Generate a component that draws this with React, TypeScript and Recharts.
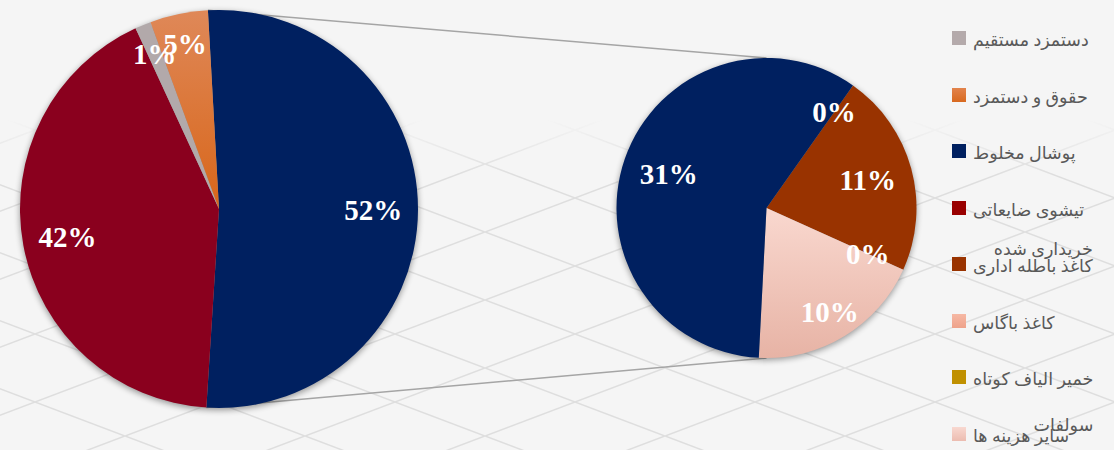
import React from 'react';
import { PieChart, Pie, Cell, Legend } from 'recharts';

const W = 1114;
const H = 450;

// secondary pie (breakdown of the navy slice), clockwise order
const secondaryNames = ['کاغذ باگاس', 'کاغذ باطله اداری خریداری شده', 'خمیر الیاف کوتاه سولفات', 'سایر هزینه ها', 'پوشال مخلوط'];
const secondaryValues = [0, 11.4, 0, 9.9, 30.6];

// primary pie, clockwise order; first slice is the group shown in the second pie
const primaryNames = ['سایر', 'تیشوی ضایعاتی', 'دستمزد مستقیم', 'حقوق و دستمزد'];
const primaryValues = [secondaryValues.reduce((a, b) => a + b, 0), 42.1, 1.3, 4.7];

const legendNames = [
  'دستمزد مستقیم',
  'حقوق و دستمزد',
  'پوشال مخلوط',
  'تیشوی ضایعاتی',
  'کاغذ باطله اداری خریداری شده',
  'کاغذ باگاس',
  'خمیر الیاف کوتاه سولفات',
  'سایر هزینه ها',
];

const primaryData = primaryNames.map((name, i) => ({ name, value: primaryValues[i] }));
const secondaryData = secondaryNames.map((name, i) => ({ name, value: secondaryValues[i] }));

// geometry / styles
const LEFT = { cx: 219, cy: 209, r: 199, start: 93.2 };
const RIGHT = { cx: 766.5, cy: 208, r: 150, start: 54.8 };

const FILL: Record<string, string> = {
  'سایر': '#002060',
  'پوشال مخلوط': '#002060',
  'تیشوی ضایعاتی': '#8a001e',
  'دستمزد مستقیم': '#b2a9aa',
  'حقوق و دستمزد': 'url(#gOrange)',
  'کاغذ باطله اداری خریداری شده': '#993300',
  'کاغذ باگاس': 'url(#gSalmon)',
  'خمیر الیاف کوتاه سولفات': '#c09000',
  'سایر هزینه ها': 'url(#gPink)',
};

const SWATCH: Record<string, string> = {
  'دستمزد مستقیم': '#b4aaab',
  'حقوق و دستمزد': 'linear-gradient(#e2834c, #d8691f)',
  'پوشال مخلوط': '#002060',
  'تیشوی ضایعاتی': '#990000',
  'کاغذ باطله اداری خریداری شده': '#993300',
  'کاغذ باگاس': 'linear-gradient(#f6b8a4, #eea28a)',
  'خمیر الیاف کوتاه سولفات': '#c09000',
  'سایر هزینه ها': 'linear-gradient(#f8d8d0, #ecbcb0)',
};

const LEGEND_WRAP: Record<string, { main: string; extra: string; dy: number }> = {
  'کاغذ باطله اداری خریداری شده': { main: 'کاغذ باطله اداری', extra: 'خریداری شده', dy: -17 },
  'خمیر الیاف کوتاه سولفات': { main: 'خمیر الیاف کوتاه', extra: 'سولفات', dy: 46 },
};

const LABEL_RADIUS: Record<string, number> = {
  'پوشال مخلوط': 0.69,
  'کاغذ باطله اداری خریداری شده': 0.7,
  'سایر هزینه ها': 0.81,
  'کاغذ باگاس': 0.78,
  'خمیر الیاف کوتاه سولفات': 0.74,
};

const SERIF = "'Liberation Serif', 'Times New Roman', serif";
const LEGEND_FONT = "'Liberation Serif', 'DejaVu Sans', serif";
const RAD = Math.PI / 180;

const renderLabel = (props: any) => {
  const { cx, cy, midAngle, outerRadius, value, name, percent } = props;
  const f = LABEL_RADIUS[name] ?? (percent < 0.1 ? 0.845 : 0.775);
  const x = cx + outerRadius * f * Math.cos(-midAngle * RAD);
  const y = cy + outerRadius * f * Math.sin(-midAngle * RAD);
  return (
    <text
      x={x}
      y={y}
      fill="#fff"
      textAnchor="middle"
      dominantBaseline="central"
      fontFamily={SERIF}
      fontWeight="bold"
      fontSize={29}
    >
      {Math.round(value)}%
    </text>
  );
};

const renderLegend = () => (
  <div style={{ position: 'relative', width: 162, height: H }}>
    {legendNames.map((name, i) => {
      const mid = 38 + 56.5 * i;
      const wrap = LEGEND_WRAP[name];
      return (
        <div
          key={name}
          style={{ position: 'absolute', left: 0, top: mid - 7, height: 14, display: 'flex', alignItems: 'center' }}
        >
          <span style={{ display: 'inline-block', width: 14, height: 14, background: SWATCH[name] }} />
          <span
            dir="rtl"
            style={{
              position: 'relative',
              marginLeft: 7,
              fontSize: 17.5,
              lineHeight: '16px',
              top: 2,
              color: '#595959',
              fontFamily: LEGEND_FONT,
              whiteSpace: 'nowrap',
            }}
          >
            {wrap ? wrap.main : name}
            {wrap && <span style={{ position: 'absolute', right: 0, top: wrap.dy }}>{wrap.extra}</span>}
          </span>
        </div>
      );
    })}
  </div>
);

function Background() {
  const otherShare = primaryValues[0] / primaryValues.reduce((a, b) => a + b, 0);
  const a0 = LEFT.start * RAD;
  const a1 = (LEFT.start - 360 * otherShare) * RAD;
  const p0 = { x: LEFT.cx + LEFT.r * Math.cos(a0), y: LEFT.cy - LEFT.r * Math.sin(a0) };
  const p1 = { x: LEFT.cx + LEFT.r * Math.cos(a1), y: LEFT.cy - LEFT.r * Math.sin(a1) };
  return (
    <svg width={W} height={H} style={{ position: 'absolute', left: 0, top: 0 }}>
      <defs>
        <linearGradient id="gOrange" x1="0" y1="0" x2="0" y2="1">
          <stop offset="0" stopColor="#df8858" />
          <stop offset="1" stopColor="#d8661a" />
        </linearGradient>
        <linearGradient id="gSalmon" x1="0" y1="0" x2="0" y2="1">
          <stop offset="0" stopColor="#f6b8a4" />
          <stop offset="1" stopColor="#eea28a" />
        </linearGradient>
        <linearGradient id="gPink" x1="0" y1="0" x2="0" y2="1">
          <stop offset="0" stopColor="#f9d8cf" />
          <stop offset="1" stopColor="#e7b3a5" />
        </linearGradient>
        <pattern id="lattice" x={125} y={28} width={180} height={68} patternUnits="userSpaceOnUse">
          <line x1={0} y1={0} x2={180} y2={68} stroke="#dedede" strokeWidth={1.6} />
          <line x1={0} y1={68} x2={180} y2={0} stroke="#dedede" strokeWidth={1.6} />
        </pattern>
        <linearGradient id="fadeY" x1="0" y1="120" x2="0" y2="175" gradientUnits="userSpaceOnUse">
          <stop offset="0" stopColor="#fff" stopOpacity={0} />
          <stop offset="1" stopColor="#fff" stopOpacity={1} />
        </linearGradient>
        <mask id="latticeMask">
          <rect x={0} y={0} width={W} height={H} fill="url(#fadeY)" />
        </mask>
        <filter id="blur" x="-20%" y="-20%" width="140%" height="140%">
          <feGaussianBlur stdDeviation={3} />
        </filter>
      </defs>
      <rect x={0} y={0} width={W} height={H} fill="#f5f5f5" />
      <rect x={0} y={0} width={W} height={H} fill="url(#lattice)" mask="url(#latticeMask)" />
      <line x1={p0.x} y1={p0.y} x2={RIGHT.cx} y2={RIGHT.cy - RIGHT.r} stroke="#a5a5a5" strokeWidth={1.5} />
      <line x1={p1.x} y1={p1.y} x2={RIGHT.cx} y2={RIGHT.cy + RIGHT.r} stroke="#a5a5a5" strokeWidth={1.5} />
      <circle cx={LEFT.cx} cy={LEFT.cy + 2} r={LEFT.r} fill="#000" opacity={0.4} filter="url(#blur)" />
      <circle cx={RIGHT.cx} cy={RIGHT.cy + 2} r={RIGHT.r} fill="#000" opacity={0.4} filter="url(#blur)" />
    </svg>
  );
}

export default function App() {
  return (
    <div style={{ position: 'absolute', left: 0, top: 0, width: W, height: H, overflow: 'hidden' }}>
      <Background />
      <div style={{ position: 'absolute', left: 0, top: 0 }}>
        <PieChart width={W} height={H} margin={{ top: 0, right: 0, bottom: 0, left: 0 }}>
          <Pie
            data={primaryData}
            dataKey="value"
            nameKey="name"
            cx={LEFT.cx}
            cy={LEFT.cy}
            outerRadius={LEFT.r}
            startAngle={LEFT.start}
            endAngle={LEFT.start - 360}
            stroke="none"
            label={renderLabel}
            labelLine={false}
            isAnimationActive={false}
          >
            {primaryData.map((d) => (
              <Cell key={d.name} fill={FILL[d.name]} />
            ))}
          </Pie>
          <Pie
            data={secondaryData}
            dataKey="value"
            nameKey="name"
            cx={RIGHT.cx}
            cy={RIGHT.cy}
            outerRadius={RIGHT.r}
            startAngle={RIGHT.start}
            endAngle={RIGHT.start - 360}
            stroke="none"
            label={renderLabel}
            labelLine={false}
            isAnimationActive={false}
          >
            {secondaryData.map((d) => (
              <Cell key={d.name} fill={FILL[d.name]} />
            ))}
          </Pie>
          <Legend
            layout="vertical"
            align="right"
            verticalAlign="top"
            content={renderLegend}
            wrapperStyle={{ left: 952, top: 0, width: 162, height: H }}
          />
        </PieChart>
      </div>
    </div>
  );
}
